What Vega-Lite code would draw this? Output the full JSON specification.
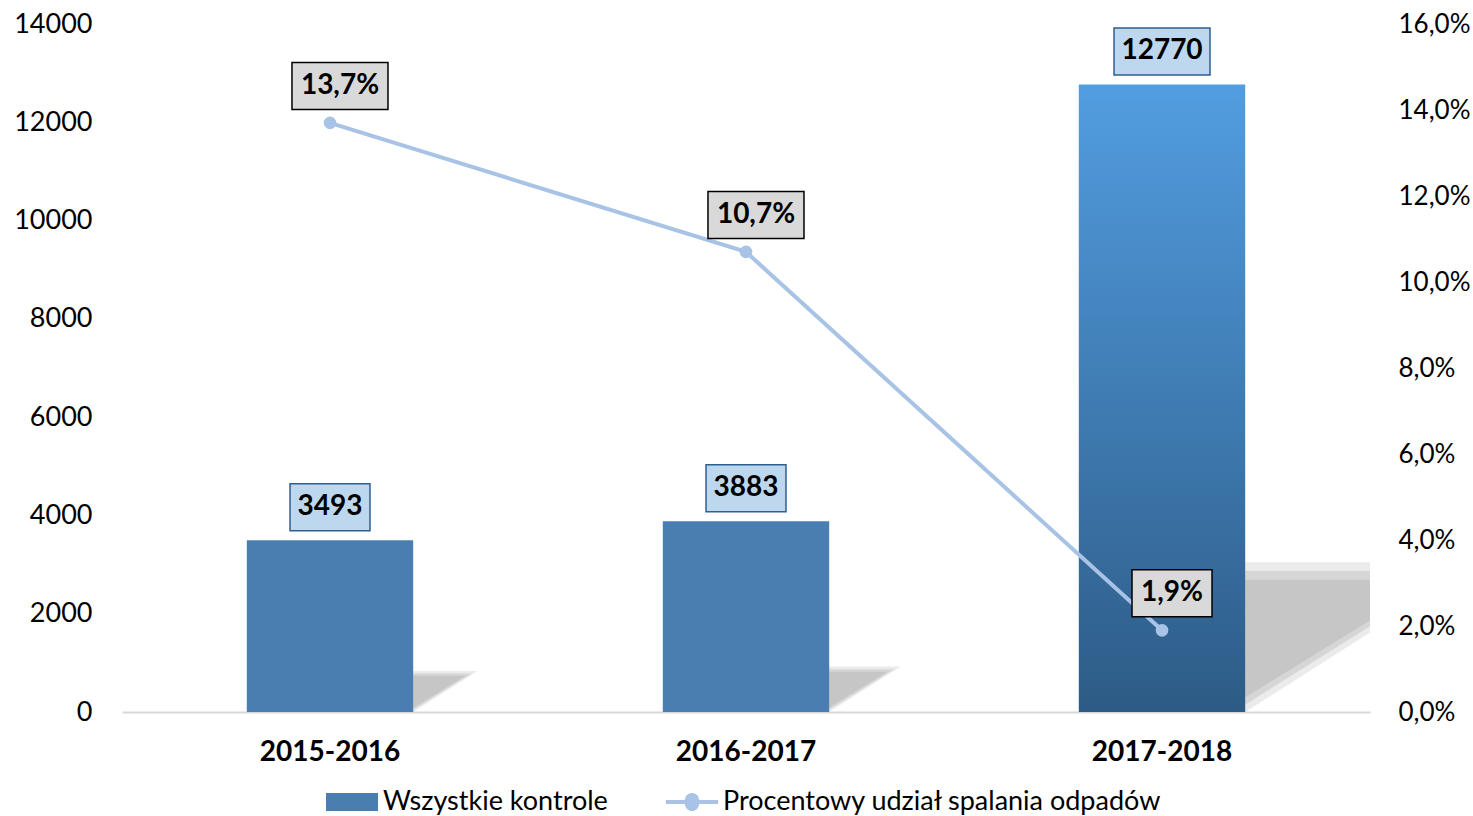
{
  "$schema": "https://vega.github.io/schema/vega-lite/v6.json",
  "width": 1248,
  "height": 688,
  "autosize": {"type": "none"},
  "padding": {"left": 122, "top": 24, "right": 103, "bottom": 104},
  "background": "white",
  "config": {
    "view": {"stroke": null},
    "locale": {"number": {"decimal": ",", "thousands": " ", "grouping": [3], "currency": ["", " zł"]}},
    "font": "Lato"
  },
  "data": {
    "values": [
      {"okres": "2015-2016", "kontrole": 3493, "udzial": 0.137},
      {"okres": "2016-2017", "kontrole": 3883, "udzial": 0.107},
      {"okres": "2017-2018", "kontrole": 12770, "udzial": 0.019}
    ]
  },
  "encoding": {
    "x": {
      "field": "okres", "type": "nominal", "sort": null,
      "scale": {"paddingInner": 0.6, "paddingOuter": 0.3},
      "axis": {
        "title": null, "labelAngle": 0, "labelFont": "Lato", "labelFontSize": 28,
        "labelFontWeight": "bold", "labelColor": "#000000", "labelPadding": 26,
        "ticks": false, "domainColor": "#D9D9D9", "domainWidth": 2
      }
    }
  },
  "layer": [
    {
      "encoding": {
        "y": {
          "field": "kontrole", "type": "quantitative",
          "scale": {"domain": [0, 14000]},
          "axis": {
            "title": null, "values": [0, 2000, 4000, 6000, 8000, 10000, 12000, 14000],
            "format": "d", "grid": false, "ticks": false, "domain": false,
            "labelFont": "Lato", "labelFontSize": 27, "labelColor": "#000000", "labelPadding": 30
          }
        }
      },
      "layer": [
        {
          "mark": {"type": "point", "filled": true, "clip": true, "fill": "#B0B0B0", "strokeWidth": 0, "opacity": 0.25, "shape": "M0,0L0,-1.02L1.6,-1.02Z"},
          "encoding": {
            "x": {"field": "okres", "type": "nominal", "bandPosition": 1},
            "y": {"datum": 0, "type": "quantitative"},
            "size": {"field": "kontrole", "type": "quantitative", "legend": null,
              "scale": {"type": "pow", "exponent": 2, "domain": [0, 14000], "range": [0, 103684]}}
          }
        },
        {
          "mark": {"type": "point", "filled": true, "clip": true, "fill": "#B0B0B0", "strokeWidth": 0, "opacity": 0.35, "shape": "M0,-0.05L0,-0.96L1.45,-0.96Z"},
          "encoding": {
            "x": {"field": "okres", "type": "nominal", "bandPosition": 1},
            "y": {"datum": 0, "type": "quantitative"},
            "size": {"field": "kontrole", "type": "quantitative", "legend": null,
              "scale": {"type": "pow", "exponent": 2, "domain": [0, 14000], "range": [0, 103684]}}
          }
        },
        {
          "mark": {"type": "point", "filled": true, "clip": true, "fill": "#B0B0B0", "strokeWidth": 0, "opacity": 0.4, "shape": "M0,-0.1L0,-0.9L1.3,-0.9Z"},
          "encoding": {
            "x": {"field": "okres", "type": "nominal", "bandPosition": 1},
            "y": {"datum": 0, "type": "quantitative"},
            "size": {"field": "kontrole", "type": "quantitative", "legend": null,
              "scale": {"type": "pow", "exponent": 2, "domain": [0, 14000], "range": [0, 103684]}}
          }
        },
        {
          "transform": [{"filter": "datum.okres != '2017-2018'"}],
          "mark": {"type": "bar"},
          "encoding": {
            "color": {
              "datum": "Wszystkie kontrole",
              "type": "nominal",
              "scale": {
                "domain": ["Wszystkie kontrole", "Procentowy udział spalania odpadów"],
                "range": ["#4A7EB0", "#A8C3E5"]
              },
              "legend": {
                "title": null, "orient": "none", "direction": "horizontal",
                "legendX": 204, "legendY": 752, "padding": 0,
                "labelFont": "Lato", "labelFontSize": 27, "labelColor": "#000000", "labelLimit": 600,
                "symbolSize": 2704, "columnPadding": 58, "labelOffset": 5,
                "symbolStrokeWidth": 0, "symbolOpacity": 1,
                "encode": {
                  "symbols": {
                    "update": {
                      "shape": {"signal": "datum.value === 'Wszystkie kontrole' ? 'M-1,-0.35L1,-0.35L1,0.35L-1,0.35Z' : 'M-1,-0.08L-0.27,-0.08A0.27,0.27 0 0,1 0.27,-0.08L1,-0.08L1,0.08L0.27,0.08A0.27,0.27 0 0,1 -0.27,0.08L-1,0.08Z'"},
                      "fill": {"signal": "datum.value === 'Wszystkie kontrole' ? '#4A7EB0' : '#A8C3E5'"},
                      "fillOpacity": {"value": 1},
                      "strokeWidth": {"value": 0},
                      "size": {"value": 2704}
                    }
                  }
                }
              }
            }
          }
        },
        {
          "transform": [{"filter": "datum.okres == '2017-2018'"}],
          "mark": {
            "type": "bar",
            "color": {
              "gradient": "linear", "x1": 0, "y1": 0, "x2": 0, "y2": 1,
              "stops": [{"offset": 0, "color": "#529DE0"}, {"offset": 1, "color": "#2D5B86"}]
            }
          }
        },
        {
          "mark": {"type": "point", "filled": true, "fill": "#BDD7EE", "stroke": "#2F5F8F", "strokeWidth": 1.5, "opacity": 1, "size": 9216},
          "encoding": {
            "shape": {
              "condition": {"test": "datum.kontrole >= 10000", "value": "M-1,-1.177L1,-1.177L1,-0.198L-1,-0.198Z"},
              "value": "M-0.833,-1.177L0.833,-1.177L0.833,-0.198L-0.833,-0.198Z"
            }
          }
        },
        {
          "mark": {"type": "text", "dy": -33, "baseline": "middle", "align": "center", "font": "Lato", "fontSize": 28, "fontWeight": "bold", "color": "#000000"},
          "encoding": {"text": {"field": "kontrole", "type": "quantitative", "format": "d"}}
        }
      ]
    },
    {
      "encoding": {
        "y": {
          "field": "udzial", "type": "quantitative",
          "scale": {"domain": [0, 0.16]},
          "axis": {
            "orient": "right", "title": null, "values": [0, 0.02, 0.04, 0.06, 0.08, 0.1, 0.12, 0.14, 0.16],
            "format": ".1%", "grid": false, "ticks": false, "domain": false,
            "labelFont": "Lato", "labelFontSize": 26, "labelColor": "#000000", "labelPadding": 28
          }
        }
      },
      "layer": [
        {
          "mark": {"type": "line", "strokeWidth": 4, "point": {"filled": true, "size": 160, "color": "#A8C3E5", "opacity": 1}},
          "encoding": {
            "color": {"datum": "Procentowy udział spalania odpadów", "type": "nominal"}
          }
        },
        {
          "mark": {"type": "point", "filled": true, "fill": "#D9D9D9", "stroke": "#000000", "strokeWidth": 1.5, "opacity": 1, "size": 9216},
          "encoding": {
            "shape": {
              "condition": {"test": "datum.udzial >= 0.1", "value": "M-0.792,-1.26L1.208,-1.26L1.208,-0.281L-0.792,-0.281Z"},
              "value": "M-0.625,-1.26L1.042,-1.26L1.042,-0.281L-0.625,-0.281Z"
            }
          }
        },
        {
          "mark": {"type": "text", "dy": -37, "dx": 10, "baseline": "middle", "align": "center", "font": "Lato", "fontSize": 28, "fontWeight": "bold", "color": "#000000"},
          "encoding": {"text": {"field": "udzial", "type": "quantitative", "format": ".1%"}}
        }
      ]
    }
  ],
  "resolve": {"scale": {"y": "independent"}}
}
